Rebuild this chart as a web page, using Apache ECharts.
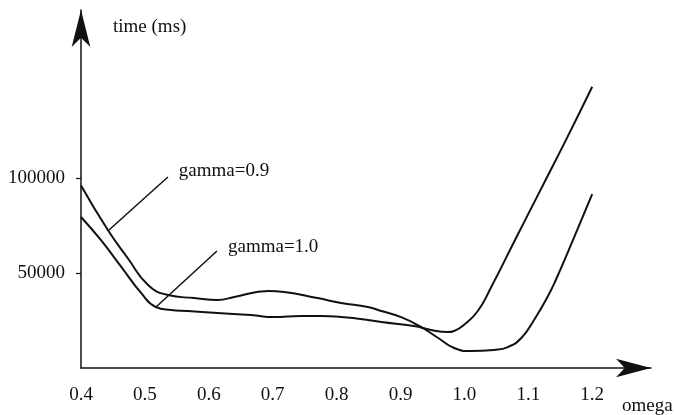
<!DOCTYPE html>
<html>
<head>
<meta charset="utf-8">
<script src="https://cdn.jsdelivr.net/npm/echarts@6/dist/echarts.min.js"></script>
<style>
html,body{margin:0;padding:0;background:#fff;}
#chart{width:674px;height:415px;}
</style>
</head>
<body>
<div id="chart"></div>
<script>
// x ticks (omega) and y ticks (time)
var xTicks = [0.4, 0.5, 0.6, 0.7, 0.8, 0.9, 1.0, 1.1, 1.2];
var yTicks = [50000, 100000];

// gamma = 0.9
var gamma09Omega = [0.4, 0.442, 0.473, 0.505, 0.536, 0.577, 0.614, 0.64, 0.693, 0.718, 0.77, 0.807, 0.849, 0.87, 0.901, 0.932, 0.959, 0.984, 1.01, 1.046, 1.068, 1.089, 1.109, 1.131, 1.143, 1.17, 1.2];
var gamma09Time  = [96000, 72600, 57900, 43700, 38400, 36800, 35800, 37400, 40500, 40000, 36800, 34200, 32100, 30000, 26800, 21600, 15800, 10500, 8900, 9500, 11000, 15800, 25300, 38000, 46300, 67400, 91500];

// gamma = 1.0
var gamma10Omega = [0.4, 0.431, 0.463, 0.494, 0.517, 0.541, 0.567, 0.614, 0.666, 0.702, 0.744, 0.776, 0.807, 0.849, 0.87, 0.921, 0.948, 0.974, 0.984, 0.999, 1.021, 1.042, 1.08, 1.12, 1.16, 1.2];
var gamma10Time  = [79500, 67400, 53200, 39500, 32100, 30500, 30000, 28900, 27900, 26800, 27400, 27400, 26800, 25300, 24200, 22100, 20000, 18900, 19500, 22600, 30000, 42600, 67900, 94300, 120700, 148000];

// annotation labels: text anchor and curve point
var label09 = {text: 'gamma=0.9', textAt: [0.553, 103700], lineFrom: [0.536, 100500], lineTo: [0.4438, 72600]};
var label10 = {text: 'gamma=1.0', textAt: [0.630, 63700], lineFrom: [0.6128, 61600], lineTo: [0.5174, 32100]};

function pairs(xs, ys) { return xs.map(function (x, i) { return [x, ys[i]]; }); }

var FONT = 'Liberation Serif';
var INK = '#111';

function annot(l) {
  return {
    markLine: {
      silent: true, symbol: ['none', 'none'], animation: false,
      lineStyle: {color: INK, width: 1.5, type: 'solid'},
      label: {show: false},
      data: [[{coord: l.lineFrom}, {coord: l.lineTo}]]
    },
    markPoint: {
      silent: true, symbol: 'circle', symbolSize: 0, animation: false,
      label: {show: true, position: 'right', distance: 0, formatter: l.text,
              color: INK, fontFamily: FONT, fontSize: 19},
      data: [{coord: l.textAt}]
    }
  };
}

var chart = echarts.init(document.getElementById('chart'));
var s1 = {
  type: 'line', name: 'gamma=0.9', data: pairs(gamma09Omega, gamma09Time),
  smooth: 0.5, showSymbol: false, animation: false,
  lineStyle: {color: INK, width: 2}
};
Object.assign(s1, annot(label09));
var s2 = {
  type: 'line', name: 'gamma=1.0', data: pairs(gamma10Omega, gamma10Time),
  smooth: 0.5, showSymbol: false, animation: false,
  lineStyle: {color: INK, width: 2}
};
Object.assign(s2, annot(label10));

chart.setOption({
  backgroundColor: '#fff',
  animation: false,
  grid: {left: 81, right: 23, top: 10, bottom: 47, containLabel: false, outerBoundsMode: 'none'},
  xAxis: {
    type: 'value', min: 0.4, max: 1.292,
    name: 'omega', nameLocation: 'end', nameGap: -29,
    nameTextStyle: {color: INK, fontFamily: FONT, fontSize: 19, align: 'left', verticalAlign: 'top', padding: [29, 0, 0, 0]},
    axisLine: {show: true, lineStyle: {color: INK, width: 1.5}, symbol: ['none', 'arrow'], symbolSize: [14, 35]},
    axisTick: {show: false},
    splitLine: {show: false},
    axisLabel: {customValues: xTicks, margin: 18, color: INK, fontFamily: FONT, fontSize: 19,
                formatter: function (v) { return v.toFixed(1); }}
  },
  yAxis: {
    type: 'value', min: 0, max: 188421,
    name: 'time (ms)', nameLocation: 'end', nameGap: -17,
    nameTextStyle: {color: INK, fontFamily: FONT, fontSize: 19, align: 'left', verticalAlign: 'middle', padding: [0, 0, 0, 32]},
    axisLine: {show: true, lineStyle: {color: INK, width: 1.5}, symbol: ['none', 'arrow'], symbolSize: [14, 37]},
    axisTick: {show: true, customValues: yTicks, length: 5, lineStyle: {color: INK, width: 1.2}},
    splitLine: {show: false},
    axisLabel: {customValues: yTicks, margin: 16, color: INK, fontFamily: FONT, fontSize: 19,
                formatter: function (v) { return String(v); }}
  },
  series: [s1, s2]
});
</script>
</body>
</html>
